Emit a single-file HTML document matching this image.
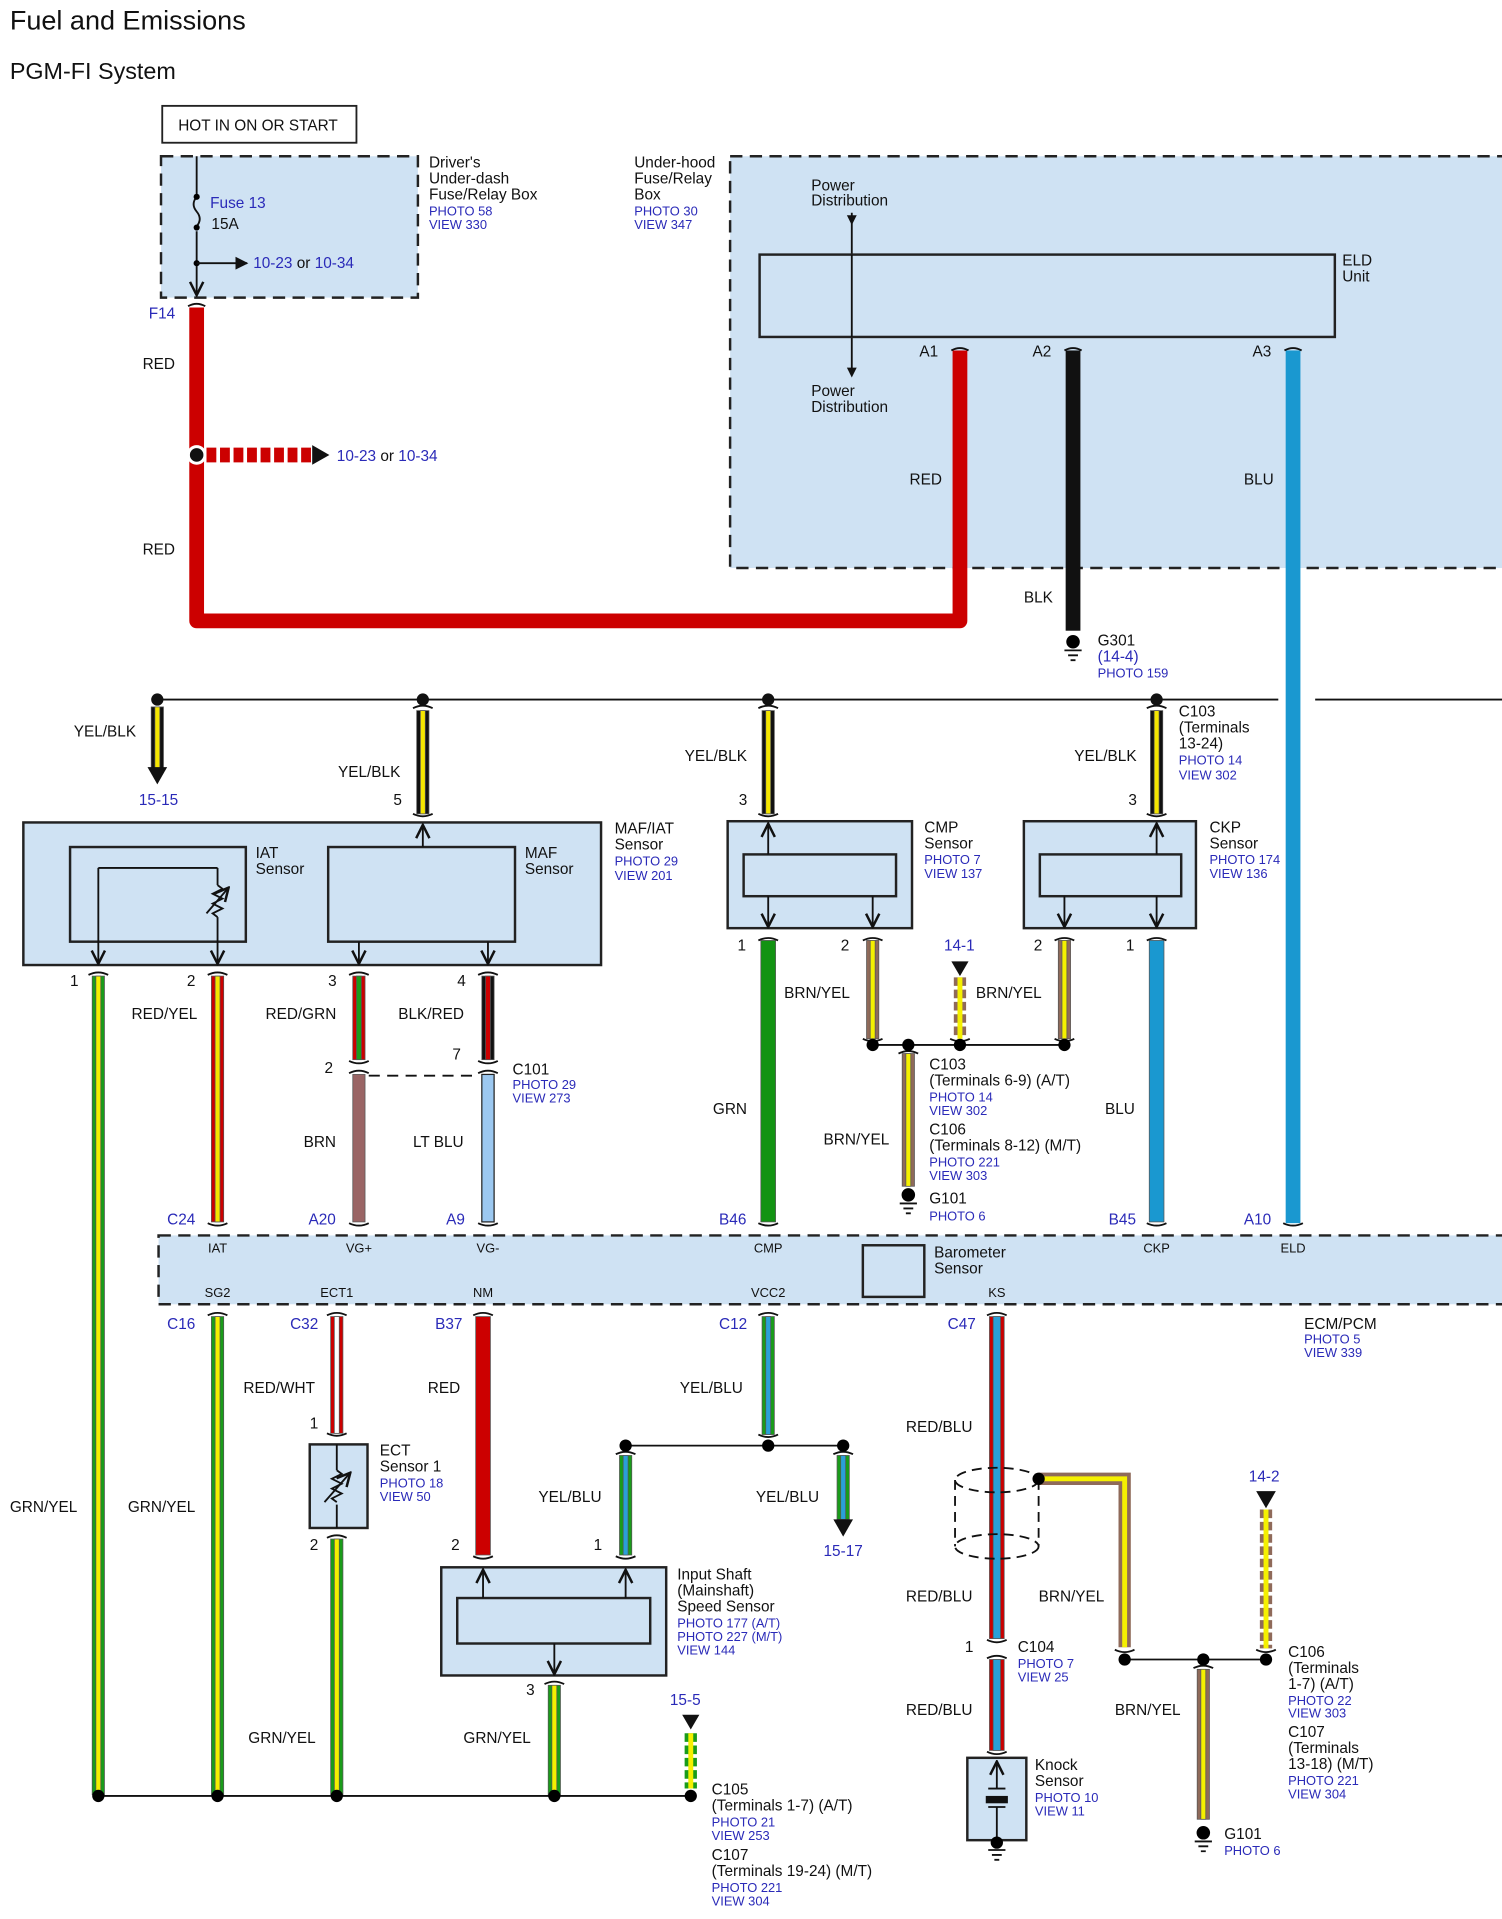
<!DOCTYPE html>
<html><head><meta charset="utf-8"><style>
html,body{margin:0;padding:0;background:#fff}
svg{display:block}
text{font-family:"Liberation Sans",Arial,sans-serif;font-size:12.5px;fill:#111}
.b{fill:#2a2ab8;font-size:10.5px}
.bl{fill:#2a2ab8;font-size:12.5px}
.s{font-size:10.5px}
.box{fill:#cfe2f3;stroke:#222;stroke-width:2}
.dbox{fill:#cfe2f3;stroke:#222;stroke-width:2;stroke-dasharray:10 6}
.ln{stroke:#111;stroke-width:1.5;fill:none}
.o{stroke:#555;stroke-width:.6}
</style></head><body>
<svg width="1502" height="1919" viewBox="0 0 1222 1561" xmlns="http://www.w3.org/2000/svg">
<defs>
<marker id="a" viewBox="0 0 10 10" refX="9" refY="5" markerWidth="9" markerHeight="9" orient="auto-start-reverse"><path d="M1 1 L9 5 L1 9" fill="none" stroke="#111" stroke-width="1.5"/></marker>
<marker id="t" viewBox="0 0 10 10" refX="9" refY="5" markerWidth="7" markerHeight="7" orient="auto"><path d="M0 0 L10 5 L0 10z" fill="#111"/></marker>
</defs>
<text x="8" y="24" style="font-size:22px">Fuel and Emissions</text>
<text x="8" y="64" style="font-size:19px">PGM-FI System</text>

<!-- hot box -->
<rect x="132" y="86" width="158" height="30" fill="#fff" stroke="#222" stroke-width="1.5"/>
<text x="145" y="106">HOT IN ON OR START</text>
<rect class="dbox" x="131" y="127" width="209" height="115"/>
<line class="ln" x1="160" y1="127" x2="160" y2="240" marker-end="url(#a)"/>
<rect x="154" y="158" width="12" height="30" fill="#cfe2f3"/>
<path d="M160 160 q-5 6 0 12 q5 6 0 12" class="ln"/>
<circle cx="160" cy="160" r="2.5"/><circle cx="160" cy="185" r="2.5"/><circle cx="160" cy="214" r="2.5"/>
<line class="ln" x1="160" y1="214" x2="201" y2="214" marker-end="url(#t)"/>
<text x="171" y="169" class="bl">Fuse 13</text><text x="172" y="186">15A</text>
<text x="206" y="218" class="bl">10-23 <tspan fill="#111">or</tspan> 10-34</text>
<text x="349" y="136">Driver's</text><text x="349" y="149">Under-dash</text><text x="349" y="162">Fuse/Relay Box</text>
<text x="349" y="175" class="b">PHOTO 58</text><text x="349" y="186" class="b">VIEW 330</text>

<!-- under-hood -->
<rect class="dbox" x="594" y="127" width="640" height="335"/>
<text x="516" y="136">Under-hood</text><text x="516" y="149">Fuse/Relay</text><text x="516" y="162">Box</text>
<text x="516" y="175" class="b">PHOTO 30</text><text x="516" y="186" class="b">VIEW 347</text>
<text x="660" y="155">Power</text><text x="660" y="167">Distribution</text>
<line class="ln" x1="693" y1="173" x2="693" y2="305"/>
<path d="M689 175 L693 183 L697 175z" fill="#111"/><path d="M689 299 L693 307 L697 299z" fill="#111"/>
<rect x="618" y="207" width="468" height="67" fill="#cfe2f3" stroke="#222" stroke-width="2"/>
<line class="ln" x1="693" y1="207" x2="693" y2="274"/>
<text x="1092" y="216">ELD</text><text x="1092" y="229">Unit</text>
<text x="660" y="322">Power</text><text x="660" y="335">Distribution</text>

<!-- red main -->
<text x="121" y="259" class="bl">F14</text>
<path d="M160 250 V505 H781 V285" fill="none" stroke="#cc0000" stroke-width="12" stroke-linejoin="round"/>
<path d="M153 249 q7 -4 14 0" class="ln" stroke-width="2.5"/>
<text x="116" y="300">RED</text><text x="116" y="451">RED</text>
<line x1="168" y1="370" x2="255" y2="370" stroke="#cc0000" stroke-width="12" stroke-dasharray="8 3"/>
<path d="M254 362 L268 370 L254 378z" fill="#111"/>
<circle cx="160" cy="370" r="8" fill="#fff"/><circle cx="160" cy="370" r="5.5" fill="#111"/>
<text x="274" y="375" class="bl">10-23 <tspan fill="#111">or</tspan> 10-34</text>

<text x="748" y="290">A1</text><text x="840" y="290">A2</text><text x="1019" y="290">A3</text>
<rect x="867" y="285" width="12" height="228" fill="#111"/>
<rect x="1046" y="285" width="12" height="710" fill="#1a98d0"/>
<path d="M774 285 q7 -4 14 0 M866 285 q7 -4 14 0 M1045 285 q7 -4 14 0" class="ln" stroke-width="2.5"/>
<text x="740" y="394">RED</text><text x="1012" y="394">BLU</text><text x="833" y="490">BLK</text>
<circle cx="873" cy="522" r="5.5"/><path d="M866 529 h14 M869 533 h8 M871 537 h4" class="ln"/>
<text x="893" y="525">G301</text><text x="893" y="538" class="bl" style="fill:#2a2ab8">(<tspan>14-4</tspan>)</text><text x="893" y="551" class="b">PHOTO 159</text>

<!-- top bus -->
<line class="ln" x1="128" y1="569" x2="1040" y2="569"/><line class="ln" x1="1070" y1="569" x2="1222" y2="569"/>
<g fill="#111"><circle cx="128" cy="569" r="5"/><circle cx="344" cy="569" r="5"/><circle cx="625" cy="569" r="5"/><circle cx="941" cy="569" r="5"/></g>
<g class="o">
<rect x="123" y="575" width="10" height="50" fill="#111"/><rect x="126" y="575" width="4" height="50" fill="#f5e600"/>
<rect x="339" y="578" width="10" height="84" fill="#111"/><rect x="342" y="578" width="4" height="84" fill="#f5e600"/>
<rect x="620" y="578" width="10" height="84" fill="#111"/><rect x="623" y="578" width="4" height="84" fill="#f5e600"/>
<rect x="936" y="578" width="10" height="84" fill="#111"/><rect x="939" y="578" width="4" height="84" fill="#f5e600"/>
</g>
<path d="M120 624 L136 624 L128 638z" fill="#111"/>
<path d="M336 576 q8 -4 16 0 M617 576 q8 -4 16 0 M933 576 q8 -4 16 0 M336 662 q8 4 16 0 M617 662 q8 4 16 0 M933 662 q8 4 16 0" class="ln" stroke-width="2.5"/>
<text x="60" y="599">YEL/BLK</text><text x="113" y="655" class="bl">15-15</text>
<text x="275" y="632">YEL/BLK</text><text x="320" y="655">5</text>
<text x="557" y="619">YEL/BLK</text><text x="601" y="655">3</text>
<text x="874" y="619">YEL/BLK</text><text x="918" y="655">3</text>
<text x="959" y="583">C103</text><text x="959" y="596">(Terminals</text><text x="959" y="609">13-24)</text>
<text x="959" y="622" class="b">PHOTO 14</text><text x="959" y="634" class="b">VIEW 302</text>

<!-- MAF/IAT -->
<rect class="box" x="19" y="669" width="470" height="116"/>
<rect x="57" y="689" width="143" height="77" fill="none" stroke="#222" stroke-width="2"/>
<path d="M80 706 H177" class="ln"/>
<line class="ln" x1="80" y1="706" x2="80" y2="784" marker-end="url(#a)"/>
<line class="ln" x1="177" y1="706" x2="177" y2="784" marker-end="url(#a)"/>
<rect x="171" y="720" width="12" height="26" fill="#cfe2f3"/>
<path d="M177 720 l4 3 l-8 4 l8 4 l-8 4 l8 4 l-8 4 l4 3" class="ln" stroke-width="1.2"/>
<line class="ln" x1="168" y1="743" x2="186" y2="722" marker-end="url(#a)" stroke-width="1"/>
<text x="208" y="698">IAT</text><text x="208" y="711">Sensor</text>
<rect x="267" y="689" width="152" height="77" fill="none" stroke="#222" stroke-width="2"/>
<line class="ln" x1="344" y1="689" x2="344" y2="671" marker-end="url(#a)"/>
<line class="ln" x1="292" y1="766" x2="292" y2="784" marker-end="url(#a)"/>
<line class="ln" x1="397" y1="766" x2="397" y2="784" marker-end="url(#a)"/>
<text x="427" y="698">MAF</text><text x="427" y="711">Sensor</text>
<text x="500" y="678">MAF/IAT</text><text x="500" y="691">Sensor</text>
<text x="500" y="704" class="b">PHOTO 29</text><text x="500" y="716" class="b">VIEW 201</text>
<text x="57" y="802">1</text><text x="152" y="802">2</text><text x="267" y="802">3</text><text x="372" y="802">4</text>
<g class="o">
<rect x="75" y="794" width="10" height="666" fill="#1a9c1a"/><rect x="78" y="794" width="4" height="666" fill="#f5f000"/>
<rect x="172" y="794" width="10" height="200" fill="#cc0000"/><rect x="175" y="794" width="4" height="200" fill="#f5e600"/>
<rect x="287" y="794" width="10" height="68" fill="#cc0000"/><rect x="290" y="794" width="4" height="68" fill="#1a9c1a"/>
<rect x="392" y="794" width="10" height="68" fill="#111"/><rect x="395" y="794" width="4" height="68" fill="#cc0000"/>
<rect x="287" y="874" width="10" height="120" fill="#9a6565"/>
<rect x="392" y="874" width="10" height="120" fill="#9cc8f0" stroke="#222" stroke-width="1"/>
</g>
<path d="M72 793 q8 -4 16 0 M169 793 q8 -4 16 0 M284 793 q8 -4 16 0 M389 793 q8 -4 16 0 M284 863 q8 4 16 0 M389 863 q8 4 16 0 M284 873 q8 -4 16 0 M389 873 q8 -4 16 0 M169 995 q8 4 16 0 M284 995 q8 4 16 0 M389 995 q8 4 16 0" class="ln" stroke-width="2.5"/>
<line x1="300" y1="875" x2="390" y2="875" class="ln" stroke-dasharray="9 6"/>
<text x="107" y="829">RED/YEL</text><text x="216" y="829">RED/GRN</text><text x="324" y="829">BLK/RED</text>
<text x="264" y="873">2</text><text x="368" y="862">7</text>
<text x="417" y="874">C101</text><text x="417" y="886" class="b">PHOTO 29</text><text x="417" y="897" class="b">VIEW 273</text>
<text x="247" y="933">BRN</text><text x="336" y="933">LT BLU</text>
<text x="8" y="1230">GRN/YEL</text>

<!-- CMP -->
<rect class="box" x="592" y="668" width="150" height="87"/>
<rect x="605" y="695" width="124" height="34" fill="none" stroke="#222" stroke-width="2"/>
<line class="ln" x1="625" y1="695" x2="625" y2="670" marker-end="url(#a)"/>
<line class="ln" x1="625" y1="729" x2="625" y2="754" marker-end="url(#a)"/>
<line class="ln" x1="710" y1="729" x2="710" y2="754" marker-end="url(#a)"/>
<text x="752" y="677">CMP</text><text x="752" y="690">Sensor</text>
<text x="752" y="703" class="b">PHOTO 7</text><text x="752" y="714" class="b">VIEW 137</text>
<!-- CKP -->
<rect class="box" x="833" y="668" width="140" height="87"/>
<rect x="846" y="695" width="115" height="34" fill="none" stroke="#222" stroke-width="2"/>
<line class="ln" x1="941" y1="695" x2="941" y2="670" marker-end="url(#a)"/>
<line class="ln" x1="866" y1="729" x2="866" y2="754" marker-end="url(#a)"/>
<line class="ln" x1="941" y1="729" x2="941" y2="754" marker-end="url(#a)"/>
<text x="984" y="677">CKP</text><text x="984" y="690">Sensor</text>
<text x="984" y="703" class="b">PHOTO 174</text><text x="984" y="714" class="b">VIEW 136</text>
<text x="600" y="773">1</text><text x="684" y="773">2</text><text x="841" y="773">2</text><text x="916" y="773">1</text>
<g class="o">
<rect x="619" y="765" width="12" height="229" fill="#129312"/>
<rect x="935" y="765" width="12" height="229" fill="#1a98d0"/>
<rect x="705" y="765" width="10" height="80" fill="#8f6a5a"/><rect x="708" y="765" width="4" height="80" fill="#f5f000"/>
<rect x="861" y="765" width="10" height="80" fill="#8f6a5a"/><rect x="864" y="765" width="4" height="80" fill="#f5f000"/>
<rect x="734" y="857" width="10" height="108" fill="#8f6a5a"/><rect x="737" y="857" width="4" height="108" fill="#f5f000"/>
</g>
<line x1="781" y1="795" x2="781" y2="845" stroke="#8f6a5a" stroke-width="10" stroke-dasharray="7 3"/>
<line x1="781" y1="795" x2="781" y2="845" stroke="#f5f000" stroke-width="4"/>
<path d="M774 782 L788 782 L781 794z" fill="#111"/>
<text x="768" y="773" class="bl">14-1</text>
<path d="M617 765 q8 -4 16 0 M933 765 q8 -4 16 0 M702 765 q8 -4 16 0 M858 765 q8 -4 16 0 M702 845 q8 4 16 0 M858 845 q8 4 16 0 M773 845 q8 4 16 0 M731 857 q8 -4 16 0 M617 995 q8 4 16 0 M933 995 q8 4 16 0 M1044 995 q8 4 16 0" class="ln" stroke-width="2.5"/>
<line class="ln" x1="710" y1="850" x2="866" y2="850"/>
<g><circle cx="710" cy="850" r="5"/><circle cx="739" cy="850" r="5"/><circle cx="781" cy="850" r="5"/><circle cx="866" cy="850" r="5"/></g>
<circle cx="739" cy="972" r="5.5"/><path d="M732 979 h14 M735 983 h8 M737 987 h4" class="ln"/>
<text x="638" y="812">BRN/YEL</text><text x="794" y="812">BRN/YEL</text><text x="670" y="931">BRN/YEL</text>
<text x="580" y="906">GRN</text><text x="899" y="906">BLU</text>
<text x="756" y="870">C103</text><text x="756" y="883">(Terminals 6-9) (A/T)</text>
<text x="756" y="896" class="b">PHOTO 14</text><text x="756" y="907" class="b">VIEW 302</text>
<text x="756" y="923">C106</text><text x="756" y="936">(Terminals 8-12) (M/T)</text>
<text x="756" y="949" class="b">PHOTO 221</text><text x="756" y="960" class="b">VIEW 303</text>
<text x="756" y="979">G101</text><text x="756" y="993" class="b">PHOTO 6</text>

<!-- ECM -->
<text x="136" y="996" class="bl">C24</text><text x="251" y="996" class="bl">A20</text><text x="363" y="996" class="bl">A9</text>
<text x="585" y="996" class="bl">B46</text><text x="902" y="996" class="bl">B45</text><text x="1012" y="996" class="bl">A10</text>
<rect class="dbox" x="129" y="1005" width="1105" height="56"/>
<g class="s" text-anchor="middle">
<text x="177" y="1019" class="s">IAT</text><text x="292" y="1019" class="s">VG+</text><text x="397" y="1019" class="s">VG-</text>
<text x="625" y="1019" class="s">CMP</text><text x="941" y="1019" class="s">CKP</text><text x="1052" y="1019" class="s">ELD</text>
<text x="177" y="1055" class="s">SG2</text><text x="274" y="1055" class="s">ECT1</text><text x="393" y="1055" class="s">NM</text>
<text x="625" y="1055" class="s">VCC2</text><text x="811" y="1055" class="s">KS</text>
</g>
<rect x="702" y="1013" width="50" height="42" fill="none" stroke="#222" stroke-width="2"/>
<text x="760" y="1023">Barometer</text><text x="760" y="1036">Sensor</text>
<text x="1061" y="1081">ECM/PCM</text><text x="1061" y="1093" class="b">PHOTO 5</text><text x="1061" y="1104" class="b">VIEW 339</text>
<text x="136" y="1081" class="bl">C16</text><text x="236" y="1081" class="bl">C32</text><text x="354" y="1081" class="bl">B37</text>
<text x="585" y="1081" class="bl">C12</text><text x="771" y="1081" class="bl">C47</text>

<g class="o">
<rect x="172" y="1071" width="10" height="389" fill="#1a9c1a"/><rect x="175" y="1071" width="4" height="389" fill="#f5f000"/>
<rect x="269" y="1071" width="10" height="95" fill="#cc0000"/><rect x="272" y="1071" width="4" height="95" fill="#fff"/>
<rect x="269" y="1252" width="10" height="208" fill="#1a9c1a"/><rect x="272" y="1252" width="4" height="208" fill="#f5f000"/>
<rect x="387" y="1071" width="12" height="194" fill="#cc0000"/>
<rect x="620" y="1071" width="10" height="96" fill="#1a9c1a"/><rect x="623" y="1071" width="4" height="96" fill="#2aa0d8"/>
<rect x="504" y="1184" width="10" height="81" fill="#1a9c1a"/><rect x="507" y="1184" width="4" height="81" fill="#2aa0d8"/>
<rect x="681" y="1184" width="10" height="52" fill="#1a9c1a"/><rect x="684" y="1184" width="4" height="52" fill="#2aa0d8"/>
<rect x="446" y="1371" width="10" height="89" fill="#1a9c1a"/><rect x="449" y="1371" width="4" height="89" fill="#f5f000"/>
<rect x="805" y="1071" width="12" height="262" fill="#cc0000"/><rect x="808" y="1071" width="6" height="262" fill="#2aa0d8"/>
<rect x="805" y="1350" width="12" height="74" fill="#cc0000"/><rect x="808" y="1350" width="6" height="74" fill="#2aa0d8"/>
<rect x="974" y="1358" width="10" height="122" fill="#8f6a5a"/><rect x="977" y="1358" width="4" height="122" fill="#f5f000"/>
</g>
<path d="M678 1236 L694 1236 L686 1250z" fill="#111"/>
<path d="M169 1070 q8 -4 16 0 M266 1070 q8 -4 16 0 M385 1070 q8 -4 16 0 M617 1070 q8 -4 16 0 M803 1070 q8 -4 16 0 M266 1166 q8 4 16 0 M266 1251 q8 -4 16 0 M617 1167 q8 4 16 0 M501 1183 q8 -4 16 0 M678 1183 q8 -4 16 0 M385 1266 q8 4 16 0 M501 1266 q8 4 16 0 M443 1370 q8 -4 16 0 M803 1334 q8 4 16 0 M803 1349 q8 -4 16 0 M803 1425 q8 4 16 0 M971 1357 q8 -4 16 0 M907 1342 q8 4 16 0 M1022 1342 q8 4 16 0" class="ln" stroke-width="2.5"/>
<text x="198" y="1133">RED/WHT</text><text x="252" y="1162">1</text>
<rect class="box" x="252" y="1175" width="47" height="68"/>
<line class="ln" x1="274" y1="1175" x2="274" y2="1243"/>
<rect x="268" y="1196" width="12" height="28" fill="#cfe2f3"/>
<path d="M274 1196 l4 3 l-8 4 l8 4 l-8 4 l8 4 l-8 4 l4 3" class="ln" stroke-width="1.2"/>
<line class="ln" x1="264" y1="1222" x2="285" y2="1198" stroke-width="1" marker-end="url(#a)"/>
<text x="309" y="1184">ECT</text><text x="309" y="1197">Sensor 1</text>
<text x="309" y="1210" class="b">PHOTO 18</text><text x="309" y="1221" class="b">VIEW 50</text>
<text x="252" y="1261">2</text>
<text x="104" y="1230">GRN/YEL</text><text x="202" y="1418">GRN/YEL</text>
<text x="348" y="1133">RED</text><text x="367" y="1261">2</text>
<text x="553" y="1133">YEL/BLU</text>
<line class="ln" x1="509" y1="1176" x2="686" y2="1176"/>
<circle cx="509" cy="1176" r="5"/><circle cx="625" cy="1176" r="5"/><circle cx="686" cy="1176" r="5"/>
<text x="438" y="1222">YEL/BLU</text><text x="615" y="1222">YEL/BLU</text><text x="670" y="1266" class="bl">15-17</text>
<text x="483" y="1261">1</text>
<rect class="box" x="359" y="1275" width="183" height="88"/>
<rect x="372" y="1300" width="157" height="37" fill="none" stroke="#222" stroke-width="2"/>
<line class="ln" x1="393" y1="1300" x2="393" y2="1277" marker-end="url(#a)"/>
<line class="ln" x1="509" y1="1300" x2="509" y2="1277" marker-end="url(#a)"/>
<line class="ln" x1="451" y1="1337" x2="451" y2="1362" marker-end="url(#a)"/>
<text x="551" y="1285">Input Shaft</text><text x="551" y="1298">(Mainshaft)</text><text x="551" y="1311">Speed Sensor</text>
<text x="551" y="1324" class="b">PHOTO 177 (A/T)</text><text x="551" y="1335" class="b">PHOTO 227 (M/T)</text><text x="551" y="1346" class="b">VIEW 144</text>
<text x="428" y="1379">3</text><text x="377" y="1418">GRN/YEL</text>
<line x1="562" y1="1410" x2="562" y2="1455" stroke="#1a9c1a" stroke-width="10" stroke-dasharray="7 3"/>
<line x1="562" y1="1410" x2="562" y2="1455" stroke="#f5f000" stroke-width="4"/>
<path d="M555 1395 L569 1395 L562 1407z" fill="#111"/>
<text x="545" y="1387" class="bl">15-5</text>
<line class="ln" x1="80" y1="1461" x2="562" y2="1461"/>
<circle cx="80" cy="1461" r="5"/><circle cx="177" cy="1461" r="5"/><circle cx="274" cy="1461" r="5"/><circle cx="451" cy="1461" r="5"/><circle cx="562" cy="1461" r="5"/>
<text x="579" y="1460">C105</text><text x="579" y="1473">(Terminals 1-7) (A/T)</text>
<text x="579" y="1486" class="b">PHOTO 21</text><text x="579" y="1497" class="b">VIEW 253</text>
<text x="579" y="1513">C107</text><text x="579" y="1526">(Terminals 19-24) (M/T)</text>
<text x="579" y="1539" class="b">PHOTO 221</text><text x="579" y="1550" class="b">VIEW 304</text>

<text x="737" y="1165">RED/BLU</text><text x="737" y="1303">RED/BLU</text><text x="737" y="1395">RED/BLU</text>
<g class="ln" stroke-dasharray="8 5" stroke-width="1.8">
<ellipse cx="811" cy="1204" rx="34" ry="10"/><ellipse cx="811" cy="1258" rx="34" ry="10"/>
<line x1="777" y1="1204" x2="777" y2="1258"/><line x1="845" y1="1204" x2="845" y2="1258"/>
</g>
<path d="M845 1203 H915 V1340" fill="none" stroke="#8f6a5a" stroke-width="10"/>
<path d="M845 1203 H915 V1340" fill="none" stroke="#f5f000" stroke-width="4"/>
<circle cx="845" cy="1203" r="5"/>
<text x="845" y="1303">BRN/YEL</text>
<line class="ln" x1="915" y1="1350" x2="1030" y2="1350"/>
<circle cx="915" cy="1350" r="5"/><circle cx="979" cy="1350" r="5"/><circle cx="1030" cy="1350" r="5"/>
<line x1="1030" y1="1228" x2="1030" y2="1341" stroke="#8f6a5a" stroke-width="10" stroke-dasharray="7 3"/>
<line x1="1030" y1="1228" x2="1030" y2="1341" stroke="#f5f000" stroke-width="4"/>
<path d="M1022 1213 L1038 1213 L1030 1227z" fill="#111"/>
<text x="1016" y="1205" class="bl">14-2</text>
<text x="785" y="1344">1</text><text x="828" y="1344">C104</text>
<text x="828" y="1357" class="b">PHOTO 7</text><text x="828" y="1368" class="b">VIEW 25</text>
<rect class="box" x="787" y="1430" width="48" height="67"/>
<line class="ln" x1="811" y1="1455" x2="811" y2="1433" marker-end="url(#a)"/>
<path d="M804 1455 h14 M804 1470 h14" class="ln"/>
<rect x="802" y="1461" width="18" height="6" fill="#111"/>
<line class="ln" x1="811" y1="1470" x2="811" y2="1497"/>
<circle cx="811" cy="1499" r="5"/><path d="M804 1505 h14 M807 1509 h8 M809 1513 h4" class="ln"/>
<text x="842" y="1440">Knock</text><text x="842" y="1453">Sensor</text>
<text x="842" y="1466" class="b">PHOTO 10</text><text x="842" y="1477" class="b">VIEW 11</text>
<text x="907" y="1395">BRN/YEL</text>
<circle cx="979" cy="1491" r="5.5"/><path d="M972 1498 h14 M975 1502 h8 M977 1506 h4" class="ln"/>
<text x="996" y="1496">G101</text><text x="996" y="1509" class="b">PHOTO 6</text>
<text x="1048" y="1348">C106</text><text x="1048" y="1361">(Terminals</text><text x="1048" y="1374">1-7) (A/T)</text>
<text x="1048" y="1387" class="b">PHOTO 22</text><text x="1048" y="1397" class="b">VIEW 303</text>
<text x="1048" y="1413">C107</text><text x="1048" y="1426">(Terminals</text><text x="1048" y="1439">13-18) (M/T)</text>
<text x="1048" y="1452" class="b">PHOTO 221</text><text x="1048" y="1463" class="b">VIEW 304</text>
</svg>
</body></html>
